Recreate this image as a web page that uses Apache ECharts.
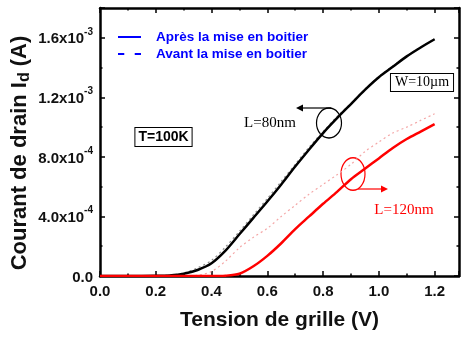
<!DOCTYPE html>
<html>
<head>
<meta charset="utf-8">
<script src="https://cdn.jsdelivr.net/npm/echarts@6/dist/echarts.min.js"></script>
<style>
  html, body { margin: 0; padding: 0; background: #fff; }
  #main { width: 462px; height: 338px; }
</style>
</head>
<body>
<div id="main"></div>
<script type="text/javascript">
// tension de grille (V)
var vg = [0, 0.05, 0.1, 0.15, 0.2, 0.25, 0.3, 0.35, 0.4, 0.45, 0.5, 0.55, 0.6,
          0.65, 0.7, 0.75, 0.8, 0.85, 0.9, 0.95, 1.0, 1.05, 1.1, 1.15, 1.2];
// courant de drain, en 1e-3 A
var l80Apres  = [0, 0, 0, 0, 0.001, 0.004, 0.015, 0.04, 0.085, 0.17, 0.28, 0.39, 0.50,
                 0.615, 0.735, 0.85, 0.96, 1.06, 1.155, 1.25, 1.335, 1.405, 1.475, 1.535, 1.59];
var l80Avant  = [0, 0, 0, 0, 0.001, 0.006, 0.02, 0.055, 0.105, 0.195, 0.30, 0.41, 0.52,
                 0.635, 0.75, 0.865, 0.97, 1.07, 1.16, 1.255, 1.34, 1.41, 1.478, 1.537, 1.592];
var l120Apres = [0, 0, 0, 0, 0, 0, 0, 0, 0, 0.002, 0.015, 0.065, 0.135,
                 0.22, 0.315, 0.40, 0.485, 0.565, 0.65, 0.72, 0.79, 0.86, 0.92, 0.97, 1.02];
var l120Avant = [0, 0, 0, 0, 0, 0, 0, 0.005, 0.03, 0.10, 0.19, 0.26, 0.32,
                 0.40, 0.475, 0.55, 0.615, 0.68, 0.75, 0.835, 0.90, 0.96, 1.0, 1.045, 1.09];
// étiquettes de l'axe Y
var yTickLabels = {
    '0': ['0.0', ''],
    '0.4': ['4.0x10', '-4'],
    '0.8': ['8.0x10', '-4'],
    '1.2': ['1.2x10', '-3'],
    '1.6': ['1.6x10', '-3']
};
var legendNames = ['Après la mise en boitier', 'Avant la mise en boitier'];

function pairs(ys) {
    return vg.map(function (v, i) { return [v, ys[i]]; });
}

var FONT = 'Liberation Sans, Arial, sans-serif';
var SERIF = 'Liberation Serif, Times New Roman, serif';
var XMAX = 1.2875, YMAX = 1.8;

var myChart = echarts.init(document.getElementById('main'));

function xAx(pos, interval, len, showLine, showLabel) {
    return {
        type: 'value', position: pos, min: 0, max: XMAX, interval: interval,
        axisLine: { show: showLine, onZero: false, lineStyle: { color: '#000', width: 2.5 } },
        axisTick: { show: true, inside: true, length: len, lineStyle: { color: '#000', width: 1.5 } },
        axisLabel: {
            show: showLabel, margin: 8, color: '#111', fontFamily: FONT, fontWeight: 'bold', fontSize: 15,
            formatter: function (v) { return v > 1.21 ? '' : v.toFixed(1); }
        },
        splitLine: { show: false }
    };
}
function yAx(pos, interval, len, showLine, showLabel) {
    return {
        type: 'value', position: pos, min: 0, max: YMAX, interval: interval,
        axisLine: { show: showLine, onZero: false, lineStyle: { color: '#000', width: 2.5 } },
        axisTick: { show: true, inside: true, length: len, lineStyle: { color: '#000', width: 1.5 } },
        axisLabel: {
            show: showLabel, margin: 7, color: '#111',
            formatter: function (v) {
                var k = String(Math.round(v * 10) / 10);
                var t = yTickLabels[k];
                if (!t) return '';
                return t[1] ? '{b|' + t[0] + '}{s|' + t[1] + '}' : '{b|' + t[0] + '}';
            },
            rich: {
                b: { fontFamily: FONT, fontWeight: 'bold', fontSize: 15, color: '#111', lineHeight: 22, verticalAlign: 'bottom', padding: [0, 0, 2, 0] },
                s: { fontFamily: FONT, fontWeight: 'bold', fontSize: 10, color: '#111', lineHeight: 22, verticalAlign: 'top', padding: [0, 0, 0, 0] }
            }
        },
        splitLine: { show: false }
    };
}

var option = {
    animation: false,
    backgroundColor: '#fff',
    grid: { left: 100, right: 2, top: 8, bottom: 62 },
    legend: {
        show: true, orient: 'vertical', left: 118, top: 30, padding: 0, itemGap: 3,
        itemWidth: 23, itemHeight: 2.2,
        data: [
            { name: legendNames[0], icon: 'path://M0,0H23V2H0Z' },
            { name: legendNames[1], icon: 'path://M0,0H6V2H0Z M16,0H22V2H16Z' }
        ],
        textStyle: { color: '#0000ff', fontFamily: FONT, fontWeight: 'bold', fontSize: 13.5,
                     lineHeight: 14, padding: [0, 0, 0, 10] }
    },
    xAxis: [
        Object.assign(xAx('bottom', 0.2, 5, true, true), {
            name: 'Tension de grille (V)', nameLocation: 'middle', nameGap: 34,
            nameTextStyle: { color: '#111', fontFamily: FONT, fontWeight: 'bold', fontSize: 21 }
        }),
        xAx('bottom', 0.1, 2.5, false, false),
        xAx('top', 0.2, 5, true, false),
        xAx('top', 0.1, 2.5, false, false)
    ],
    yAxis: [
        yAx('left', 0.4, 5, true, true),
        yAx('left', 0.2, 2.5, false, false),
        yAx('right', 0.4, 5, true, false),
        yAx('right', 0.2, 2.5, false, false)
    ],
    series: [
        { name: legendNames[0], type: 'line', data: [], symbol: 'none', color: '#0000ff',
          itemStyle: { color: '#0000ff' }, lineStyle: { color: '#0000ff', width: 2 } },
        { name: legendNames[1], type: 'line', data: [], symbol: 'none', color: '#0000ff',
          itemStyle: { color: '#0000ff' }, lineStyle: { color: '#0000ff', width: 2, type: [6, 10] } },
        { name: 'L80 avant', type: 'line', data: pairs(l80Avant), symbol: 'none', smooth: 0.3,
          lineStyle: { color: '#8a8a8a', width: 1.2, type: [2, 3] } },
        { name: 'L120 avant', type: 'line', data: pairs(l120Avant), symbol: 'none', smooth: 0.3,
          lineStyle: { color: '#f4a6a6', width: 1.2, type: [2, 3] } },
        { name: 'L80 apres', type: 'line', data: pairs(l80Apres), symbol: 'none', smooth: 0.3,
          lineStyle: { color: '#000', width: 2.5 } },
        { name: 'L120 apres', type: 'line', data: pairs(l120Apres), symbol: 'none', smooth: 0.3,
          lineStyle: { color: '#ff0000', width: 2.5 } }
    ],
    graphic: [
        { type: 'text', x: 20, y: 153, rotation: Math.PI / 2,
          style: {
              text: '{a|Courant de drain I}{d|d}{a| (A)}',
              align: 'center', verticalAlign: 'middle', textAlign: 'center', textVerticalAlign: 'middle',
              rich: {
                  a: { fontFamily: FONT, fontWeight: 'bold', fontSize: 22, fill: '#111', lineHeight: 26, verticalAlign: 'middle' },
                  d: { fontFamily: FONT, fontWeight: 'bold', fontSize: 16, fill: '#111', lineHeight: 26, verticalAlign: 'bottom' }
              }
          } },
        { type: 'text', x: 163.5, y: 137,
          style: { text: 'T=100K', font: 'bold 14px ' + FONT, fill: '#000',
                   align: 'center', verticalAlign: 'middle', textAlign: 'center', textVerticalAlign: 'middle',
                   borderColor: '#000', borderWidth: 1, padding: [2, 3, 2, 3], backgroundColor: '#fff' } },
        { type: 'text', x: 422, y: 82.5,
          style: { text: 'W=10\u00b5m', font: '14px ' + SERIF, fill: '#000',
                   align: 'center', verticalAlign: 'middle', textAlign: 'center', textVerticalAlign: 'middle',
                   borderColor: '#000', borderWidth: 1, padding: [2, 4, 1, 4], backgroundColor: '#fff' } },
        { type: 'text', x: 270, y: 123,
          style: { text: 'L=80nm', font: '15px ' + SERIF, fill: '#000',
                   align: 'center', verticalAlign: 'middle', textAlign: 'center', textVerticalAlign: 'middle' } },
        { type: 'text', x: 404, y: 210,
          style: { text: 'L=120nm', font: '15px ' + SERIF, fill: '#ff0000',
                   align: 'center', verticalAlign: 'middle', textAlign: 'center', textVerticalAlign: 'middle' } },
        // ellipses + flèches
        { type: 'circle', x: 329, y: 123, scaleX: 1, scaleY: 1.2, shape: { cx: 0, cy: 0, r: 12.5 },
          style: { fill: 'none', stroke: '#000', lineWidth: 1.2 } },
        { type: 'line', shape: { x1: 331, y1: 108, x2: 301, y2: 108 }, style: { stroke: '#000', lineWidth: 1.2 } },
        { type: 'polygon', shape: { points: [[296, 108], [303, 104.5], [303, 111.5]] }, style: { fill: '#000' } },
        { type: 'circle', x: 353, y: 174, scaleX: 1, scaleY: 1.35, shape: { cx: 0, cy: 0, r: 12 },
          style: { fill: 'none', stroke: '#ff0000', lineWidth: 1.2 } },
        { type: 'line', shape: { x1: 358, y1: 189, x2: 382, y2: 189 }, style: { stroke: '#ff0000', lineWidth: 1.2 } },
        { type: 'polygon', shape: { points: [[388, 189], [381, 185.5], [381, 192.5]] }, style: { fill: '#ff0000' } }
    ]
};

myChart.setOption(option);
</script>
</body>
</html>
